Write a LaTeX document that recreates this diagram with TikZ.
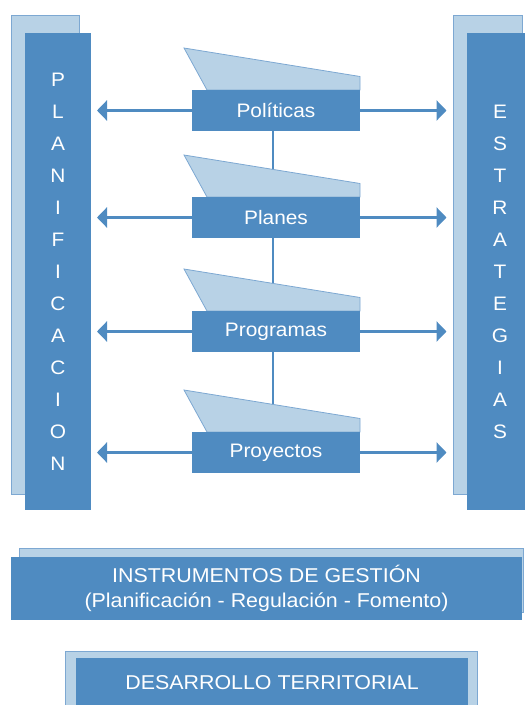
\documentclass[tikz,border=0pt]{standalone}
\usepackage{fontspec}
\setmainfont{Liberation Sans}[FakeStretch=1.07]
\usetikzlibrary{arrows.meta}
\definecolor{azul}{RGB}{79,139,193}
\definecolor{celeste}{RGB}{184,210,230}
\definecolor{borde}{RGB}{125,168,210}
\pgfdeclarelayer{background}
\pgfsetlayers{background,main}

\begin{document}
\begin{tikzpicture}[x=1pt, y=-1pt,
    caja/.style={fill=azul, text=white, inner sep=0pt, outer sep=0pt},
    fondo/.style={fill=celeste, draw=borde, line width=0.8pt},
    letra/.style={text=white, font=\fontsize{19.5}{19.5}\selectfont},
    flecha/.style={draw=azul, line width=2.5pt, -{Triangle[length=10pt,width=20pt]}}]
    \useasboundingbox (0,0) rectangle (525,705);
    \filldraw[fondo] (11,15) rectangle (79,494);
    \node[caja, minimum width=66pt, minimum height=477pt] (planif) at (58,271.5) {};
    \filldraw[fondo] (453,15) rectangle (522,494);
    \node[caja, minimum width=63pt, minimum height=477pt] (estrat) at (498.5,271.5) {};
    \foreach \l [count=\i] in {P,L,A,N,I,F,I,C,A,C,I,O,N}
        \node[letra] (pl\i) at (58, 48+32*\i) {\l};
    \foreach \l [count=\i] in {E,S,T,R,A,T,E,G,I,A,S}
        \node[letra] (es\i) at (500, 80+32*\i) {\l};
    \foreach \n/\t/\y in {politicas/Políticas/110.5, planes/Planes/217.5,
                          programas/Programas/331.5, proyectos/Proyectos/452.5} {
        \filldraw[fondo] (184,\y-62.5) -- (360,\y-34) -- (360,\y-20.5) -- (207,\y-20.5) -- cycle;
        \node[caja, minimum width=168pt, minimum height=41pt,
              font=\fontsize{19.5}{22}\selectfont] (\n) at (276,\y) {\t};
        \draw[flecha, shorten >=6pt] (\n.west) -- (planif.east |- \n.west);
        \draw[flecha, shorten >=20.5pt] (\n.east) -- (estrat.west |- \n.east);
    }
    \begin{pgfonlayer}{background}
        \draw[azul, line width=2pt] ([xshift=-3pt]politicas.south) -- ([xshift=-3pt]proyectos.north);
    \end{pgfonlayer}
    \filldraw[fondo] (19,548) rectangle (523,612);
    \node[caja, minimum width=511pt, minimum height=63pt, align=center,
          font=\fontsize{20}{25}\selectfont] (instr) at (266.5,588.5)
        {INSTRUMENTOS DE GESTIÓN\\(Planificación - Regulación - Fomento)};
    \filldraw[fondo] (65,651) rectangle (477,712);
    \node[caja, minimum width=392pt, minimum height=50pt,
          font=\fontsize{20}{22}\selectfont] (desarrollo) at (272,683) {DESARROLLO TERRITORIAL};
\end{tikzpicture}
\end{document}
